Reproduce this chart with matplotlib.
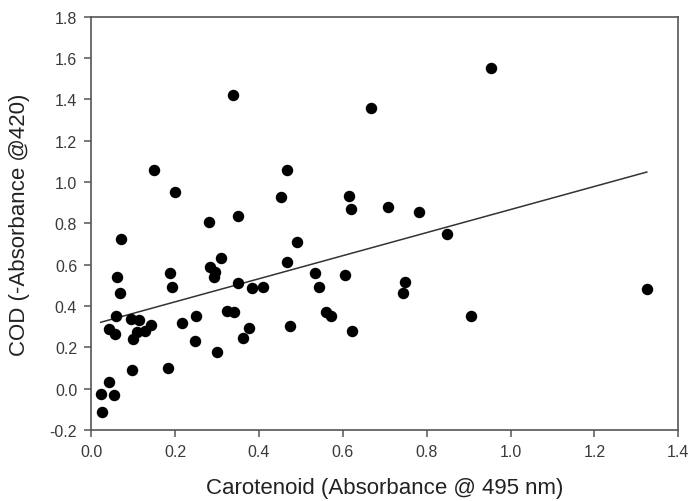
import numpy as np
import matplotlib
matplotlib.use("Agg")
import matplotlib.pyplot as plt

plt.rcParams['font.family'] = ['Liberation Sans', 'DejaVu Sans']

# Carotenoid (x) vs COD (y)
carotenoid = [0.023, 0.026, 0.042, 0.055, 0.043, 0.057, 0.059, 0.061, 0.068, 0.072,
              0.095, 0.101, 0.109, 0.114, 0.129, 0.143, 0.097, 0.149, 0.184, 0.188,
              0.192, 0.199, 0.216, 0.248, 0.250, 0.282, 0.284, 0.296, 0.292, 0.300,
              0.310, 0.323, 0.341, 0.339, 0.350, 0.351, 0.363, 0.377, 0.383, 0.409,
              0.452, 0.468, 0.466, 0.474, 0.490, 0.534, 0.544, 0.560, 0.572, 0.606,
              0.616, 0.619, 0.621, 0.667, 0.709, 0.743, 0.749, 0.783, 0.848, 0.905,
              0.953, 1.325]
cod = [-0.024, -0.110, 0.032, -0.029, 0.290, 0.266, 0.351, 0.541, 0.465, 0.725,
       0.338, 0.242, 0.274, 0.333, 0.282, 0.309, 0.089, 1.058, 0.100, 0.560,
       0.491, 0.953, 0.317, 0.233, 0.351, 0.805, 0.588, 0.564, 0.540, 0.180,
       0.631, 0.378, 0.370, 1.422, 0.511, 0.837, 0.245, 0.293, 0.486, 0.491,
       0.926, 1.058, 0.612, 0.306, 0.709, 0.560, 0.491, 0.373, 0.354, 0.551,
       0.931, 0.870, 0.282, 1.356, 0.881, 0.462, 0.518, 0.854, 0.749, 0.354,
       1.551, 0.483]

# regression line as drawn in the reference
fit_slope = 0.558
fit_intercept = 0.309

x_ticks = [0.0, 0.2, 0.4, 0.6, 0.8, 1.0, 1.2, 1.4]
y_ticks = [-0.2, 0.0, 0.2, 0.4, 0.6, 0.8, 1.0, 1.2, 1.4, 1.6, 1.8]

fig = plt.figure(figsize=(6.9, 5.02), dpi=100)
ax = fig.add_axes([0.132, 0.141, 0.851, 0.824])

ax.scatter(carotenoid, cod, s=68, color='black', zorder=3, linewidths=0)

line_x = np.array([min(carotenoid), max(carotenoid)])
ax.plot(line_x, fit_intercept + fit_slope * line_x, color='#333333', linewidth=1.1, zorder=2)

ax.set_xlim(0, 1.4)
ax.set_ylim(-0.2, 1.8)
ax.set_xticks(x_ticks)
ax.set_yticks(y_ticks)
ax.set_xticklabels([f"{t:.1f}" for t in x_ticks])
ax.set_yticklabels([f"{t:.1f}" for t in y_ticks])

for sp in ax.spines.values():
    sp.set_color('#555555')
    sp.set_linewidth(1.2)

ax.tick_params(direction='out', length=5, width=1.1, color='#555555',
               labelsize=11.5, labelcolor='#3a3a3a', pad=5)

ax.set_xlabel("Carotenoid (Absorbance @ 495 nm)", fontsize=16, color='#222222', labelpad=13)
ax.set_ylabel("COD (-Absorbance @420)", fontsize=16, color='#222222', labelpad=14)

fig.savefig("out.png", dpi=100)
